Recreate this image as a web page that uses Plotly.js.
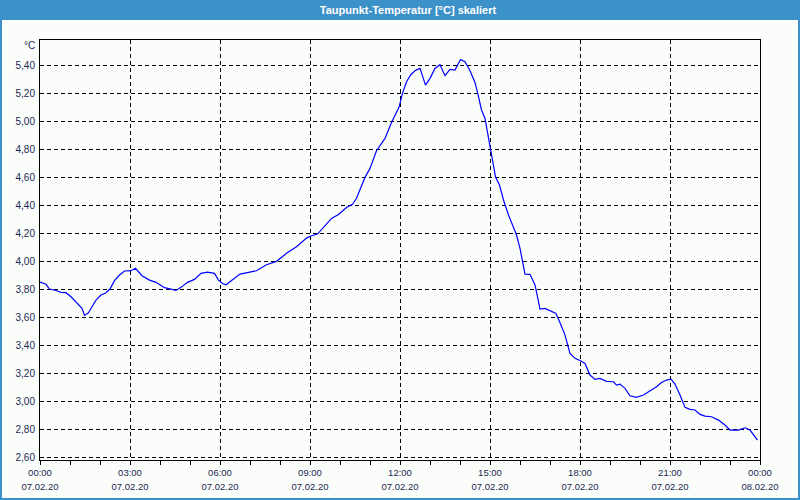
<!DOCTYPE html>
<html>
<head>
<meta charset="utf-8">
<script src="https://cdn.plot.ly/plotly-3.0.1.min.js"></script>
<style>
html,body{margin:0;padding:0;background:#fbfdfb;}
#chart{width:800px;height:500px;}
</style>
</head>
<body>
<div id="chart"></div>
<script>
const day = "2020-02-07";
const times = ["00:00","00:02","00:12","00:19","00:32","00:42","00:52","01:02","01:15","01:24","01:29","01:37","01:44","01:52","02:02","02:12","02:20","02:29","02:39","02:49",
"03:02","03:11","03:24","03:39","03:52","04:09","04:22","04:32","04:42","04:55","05:09","05:22","05:35","05:49","05:57","06:05","06:12","06:20","06:40","06:57",
"07:13","07:33","07:53","08:13","08:33","08:53","09:03","09:15","09:30","09:43","09:57","10:13","10:25","10:33","10:50","11:00","11:13","11:30","11:43","11:50",
"11:58","12:05","12:13","12:22","12:31","12:40","12:51","13:00","13:10","13:20","13:30","13:40","13:50","14:01","14:10","14:20","14:30","14:37","14:43","14:50",
"14:57","15:03","15:11","15:19","15:27","15:37","15:47","15:53","16:00","16:05","16:10","16:20","16:30","16:35","16:40","16:50","17:03","17:12","17:20","17:30",
"17:40","17:50","18:01","18:10","18:20","18:30","18:40","18:53","19:07","19:13","19:20","19:30","19:40","19:53","20:07","20:20","20:33","20:43","20:53","21:02",
"21:10","21:20","21:30","21:40","21:50","22:00","22:10","22:23","22:37","22:50","23:00","23:17","23:30","23:40","23:50","23:55"];
const dewpoint = [3.85,3.848,3.834,3.80,3.79,3.776,3.774,3.745,3.70,3.662,3.612,3.631,3.674,3.721,3.757,3.774,3.80,3.86,3.90,3.929,
3.931,3.948,3.895,3.864,3.848,3.81,3.80,3.79,3.812,3.848,3.869,3.912,3.921,3.912,3.864,3.84,3.831,3.852,3.907,3.919,
3.931,3.974,3.998,4.055,4.102,4.164,4.181,4.193,4.257,4.305,4.333,4.383,4.405,4.448,4.598,4.662,4.788,4.876,4.99,5.043,
5.098,5.198,5.281,5.333,5.362,5.376,5.257,5.305,5.376,5.402,5.324,5.369,5.364,5.44,5.424,5.36,5.276,5.174,5.079,5.019,
4.876,4.745,4.602,4.543,4.436,4.329,4.245,4.186,4.09,3.995,3.907,3.905,3.829,3.745,3.657,3.662,3.643,3.626,3.56,3.471,
3.34,3.305,3.288,3.269,3.186,3.155,3.162,3.141,3.138,3.114,3.121,3.091,3.038,3.026,3.043,3.074,3.102,3.133,3.15,3.157,
3.121,3.043,2.955,2.941,2.936,2.905,2.893,2.888,2.864,2.829,2.793,2.793,2.809,2.793,2.745,2.721];
const tickVals = ["2020-02-07 00:00","2020-02-07 03:00","2020-02-07 06:00","2020-02-07 09:00","2020-02-07 12:00","2020-02-07 15:00","2020-02-07 18:00","2020-02-07 21:00","2020-02-08 00:00"];
const tickTimes = ["00:00","03:00","06:00","09:00","12:00","15:00","18:00","21:00","00:00"];
const tickDates = ["07.02.20","07.02.20","07.02.20","07.02.20","07.02.20","07.02.20","07.02.20","07.02.20","08.02.20"];
const yTicks = [2.6,2.8,3.0,3.2,3.4,3.6,3.8,4.0,4.2,4.4,4.6,4.8,5.0,5.2,5.4];
const titleText = "Taupunkt-Temperatur [°C] skaliert";
const unitText = "°C";

const xs = times.map(t => day + " " + t);
const xRange = ["2020-02-07 00:00","2020-02-08 00:00"];
const blue = "#3c91c8";
const txt = "#1a2850";
const bg = "#fbfdfb";

const traces = [
  {x: xs, y: dewpoint, type: "scatter", mode: "lines", line: {color: "#0000ff", width: 1.2}, hoverinfo: "x+y", showlegend: false},
  {x: [], y: [], xaxis: "x2", type: "scatter", mode: "lines", showlegend: false}
];

const plotW = 720, plotH = 420;
const layout = {
  width: 800, height: 500,
  margin: {l: 40, r: 40, t: 40, b: 40, pad: 0},
  paper_bgcolor: bg, plot_bgcolor: bg,
  separators: ",.",
  showlegend: false,
  font: {family: "Liberation Sans, Arial, sans-serif", color: txt, size: 10},
  title: {text: titleText, x: 408/800, xanchor: "center", y: 1 - 10/500, yanchor: "middle",
          font: {family: "Liberation Sans, Arial, sans-serif", size: 11, color: "#ffffff", weight: "bold"}},
  xaxis: {
    type: "date", range: xRange, tickvals: tickVals, ticktext: tickTimes,
    showgrid: true, gridcolor: "#000000", gridwidth: 1, griddash: "4px,3px",
    showline: true, linecolor: "#000000", linewidth: 1, mirror: true,
    ticks: "outside", ticklen: 4, tickcolor: "#000000", tickwidth: 1,
    minor: {dtick: 3600000, ticks: "outside", ticklen: 4, tickcolor: "#000000", showgrid: false},
    tickfont: {size: 9.5, color: txt}, zeroline: false, fixedrange: true
  },
  xaxis2: {
    type: "date", range: xRange, overlaying: "x", anchor: "y", side: "bottom",
    tickvals: tickVals, ticktext: tickDates, showgrid: false, showline: false, ticks: "",
    ticklabelstandoff: 19, tickfont: {size: 9.5, color: txt}, zeroline: false, fixedrange: true
  },
  yaxis: {
    range: [2.579, 5.579], tickvals: yTicks, tickformat: ".2f",
    showgrid: true, gridcolor: "#000000", gridwidth: 1, griddash: "4px,3px",
    showline: true, linecolor: "#000000", linewidth: 1, mirror: true,
    ticks: "", ticklabelstandoff: 2, tickfont: {size: 10, color: txt}, zeroline: false, fixedrange: true
  },
  shapes: [
    {type: "rect", xref: "paper", yref: "paper", layer: "below",
     x0: -40/plotW, x1: 1 + 40/plotW, y0: 1 + 20/plotH, y1: 1 + 40/plotH,
     fillcolor: blue, line: {width: 0}},
    {type: "rect", xref: "paper", yref: "paper", layer: "above",
     x0: -39/plotW, x1: 1 + 39/plotW, y0: -39/plotH, y1: 1 + 39/plotH,
     fillcolor: "rgba(0,0,0,0)", line: {color: blue, width: 2}}
  ],
  annotations: [
    {text: unitText, xref: "paper", yref: "paper", x: 0, y: 1, xanchor: "right", yanchor: "middle",
     xshift: -3, yshift: -5, showarrow: false, font: {size: 10, color: txt}}
  ]
};

Plotly.newPlot("chart", traces, layout, {displayModeBar: false, staticPlot: true});
</script>
</body>
</html>
